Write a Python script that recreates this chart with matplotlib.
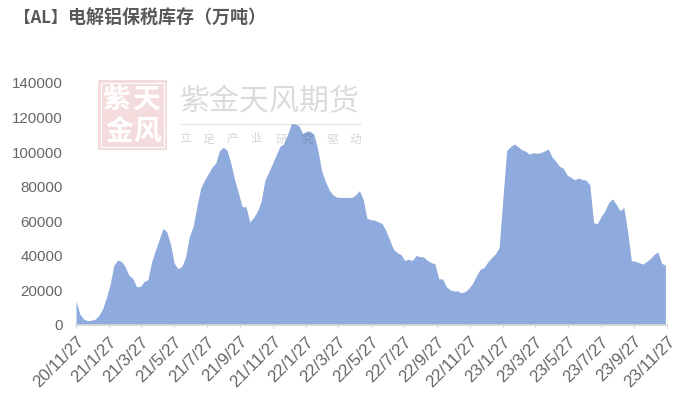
import pandas as pd
import matplotlib
matplotlib.use("Agg")
import matplotlib.pyplot as plt
from matplotlib.patches import Rectangle
from matplotlib.lines import Line2D

plt.rcParams['font.family'] = ['Liberation Sans', 'Noto Sans CJK SC', 'DejaVu Sans']

# weekly stock
stock = [14100, 6400, 3500, 2500, 2700, 3300, 5400, 9100, 15500, 23200,
         34400, 37500, 36900, 33800, 28800, 27000, 22200, 22200, 25100, 26100,
         36300, 43100, 49300, 55800, 54100, 46900, 35700, 32600, 33800, 39200,
         51200, 57000, 68600, 79200, 83700, 87500, 91200, 93700, 101000, 102800,
         101000, 93300, 84000, 76300, 68400, 68400, 59500, 62200, 65700, 71500,
         83700, 88500, 93300, 98500, 103400, 104900, 110100, 116500, 116300, 115300,
         110700, 112100, 112100, 110100, 101400, 89400, 83100, 78200, 75300, 74000,
         73800, 73800, 73800, 73800, 75300, 77700, 72800, 61800, 60900, 60700,
         59700, 58700, 54700, 49300, 43900, 41900, 40800, 37300, 38100, 37300,
         40200, 39600, 39400, 37300, 36100, 35400, 26700, 26700, 22200, 20300,
         19700, 19700, 18700, 19300, 21300, 24100, 28600, 32300, 33200, 36500,
         39000, 41200, 44800, 73400, 101000, 103200, 104700, 103200, 101400, 100500,
         98900, 99700, 99300, 99700, 100700, 101800, 97200, 94700, 91800, 90600,
         86700, 85400, 84000, 85000, 84200, 83800, 81100, 59100, 58700, 62800,
         66100, 70900, 73000, 69700, 66100, 68000, 54100, 37100, 36900, 36100,
         35200, 36700, 38400, 40800, 42300, 35700, 34600]
dates = pd.date_range("2020-11-27", periods=len(stock), freq="7D")

tick_labels = ["20/11/27", "21/1/27", "21/3/27", "21/5/27", "21/7/27", "21/9/27",
               "21/11/27", "22/1/27", "22/3/27", "22/5/27", "22/7/27", "22/9/27",
               "22/11/27", "23/1/27", "23/3/27", "23/5/27", "23/7/27", "23/9/27",
               "23/11/27"]
tick_dates = pd.to_datetime(tick_labels, format="%y/%m/%d")
y_ticks = [0, 20000, 40000, 60000, 80000, 100000, 120000, 140000]

W, H = 700, 404
grey = "#666666"
fig = plt.figure(figsize=(W / 100, H / 100), dpi=100)
ax = fig.add_axes([76 / W, (H - 325) / H, 591 / W, 242 / H])

ax.fill_between(dates, stock, 0, color="#8FAADC", lw=0)
ax.set_xlim(tick_dates[0], tick_dates[-1])
ax.set_ylim(0, 140000)

ax.set_yticks(y_ticks)
ax.set_xticks(tick_dates)
ax.set_xticklabels(tick_labels, rotation=45, ha="right", rotation_mode="anchor")
ax.tick_params(axis="y", length=0, pad=9.5, labelsize=10.9, labelcolor=grey)
ax.tick_params(axis="x", length=2.5, width=0.8, color="#d9d9d9", pad=4, labelsize=12.2, labelcolor=grey)

for side in ["top", "right", "left"]:
    ax.spines[side].set_visible(False)
ax.spines["bottom"].set_color("#d9d9d9")
ax.spines["bottom"].set_linewidth(1.2)

cjk = ['Noto Sans CJK SC', 'DejaVu Sans']

# title, the bracket part is tighter than the rest in the original
fig.text(14 / W, 1 - 18 / H, "【AL】", fontsize=12, fontweight="bold", color="#595959",
         va="center", family=cjk)
fig.text(68 / W, 1 - 18 / H, "电解铝保税库存（万吨）", fontsize=13, fontweight="bold", color="#595959",
         va="center", family=cjk)

# watermark, drawn over the chart
fig.add_artist(Rectangle((98 / W, 1 - 150 / H), 69 / W, 70 / H, transform=fig.transFigure,
                         facecolor="#f4dcdd", edgecolor="none", zorder=5))
fig.add_artist(Rectangle((101 / W, 1 - 147 / H), 63 / W, 64 / H, transform=fig.transFigure,
                         facecolor="none", edgecolor="white", lw=0.8, zorder=6))
for ch, px, py in [("紫", 116, 100), ("天", 146, 100), ("金", 119, 132), ("风", 147, 132)]:
    fig.text(px / W, 1 - py / H, ch, fontsize=20, fontweight="bold", color="white",
             ha="center", va="center", family=cjk, zorder=6)

fig.text(270 / W, 1 - 102 / H, "紫金天风期货", fontsize=21.6, color="black", alpha=0.14,
         ha="center", va="center", family=cjk, zorder=6)
fig.add_artist(Line2D([180 / W, 360 / W], [1 - 124 / H] * 2, transform=fig.transFigure,
                      color="black", alpha=0.1, lw=1, zorder=6))
for ch, px in zip("立足产业研究驱动", [185, 208, 232, 256, 282, 307, 332, 355]):
    fig.text(px / W, 1 - 139 / H, ch, fontsize=8.5, color="black", alpha=0.16,
             ha="center", va="center", family=cjk, zorder=6)

fig.savefig("out.png", dpi=100)
